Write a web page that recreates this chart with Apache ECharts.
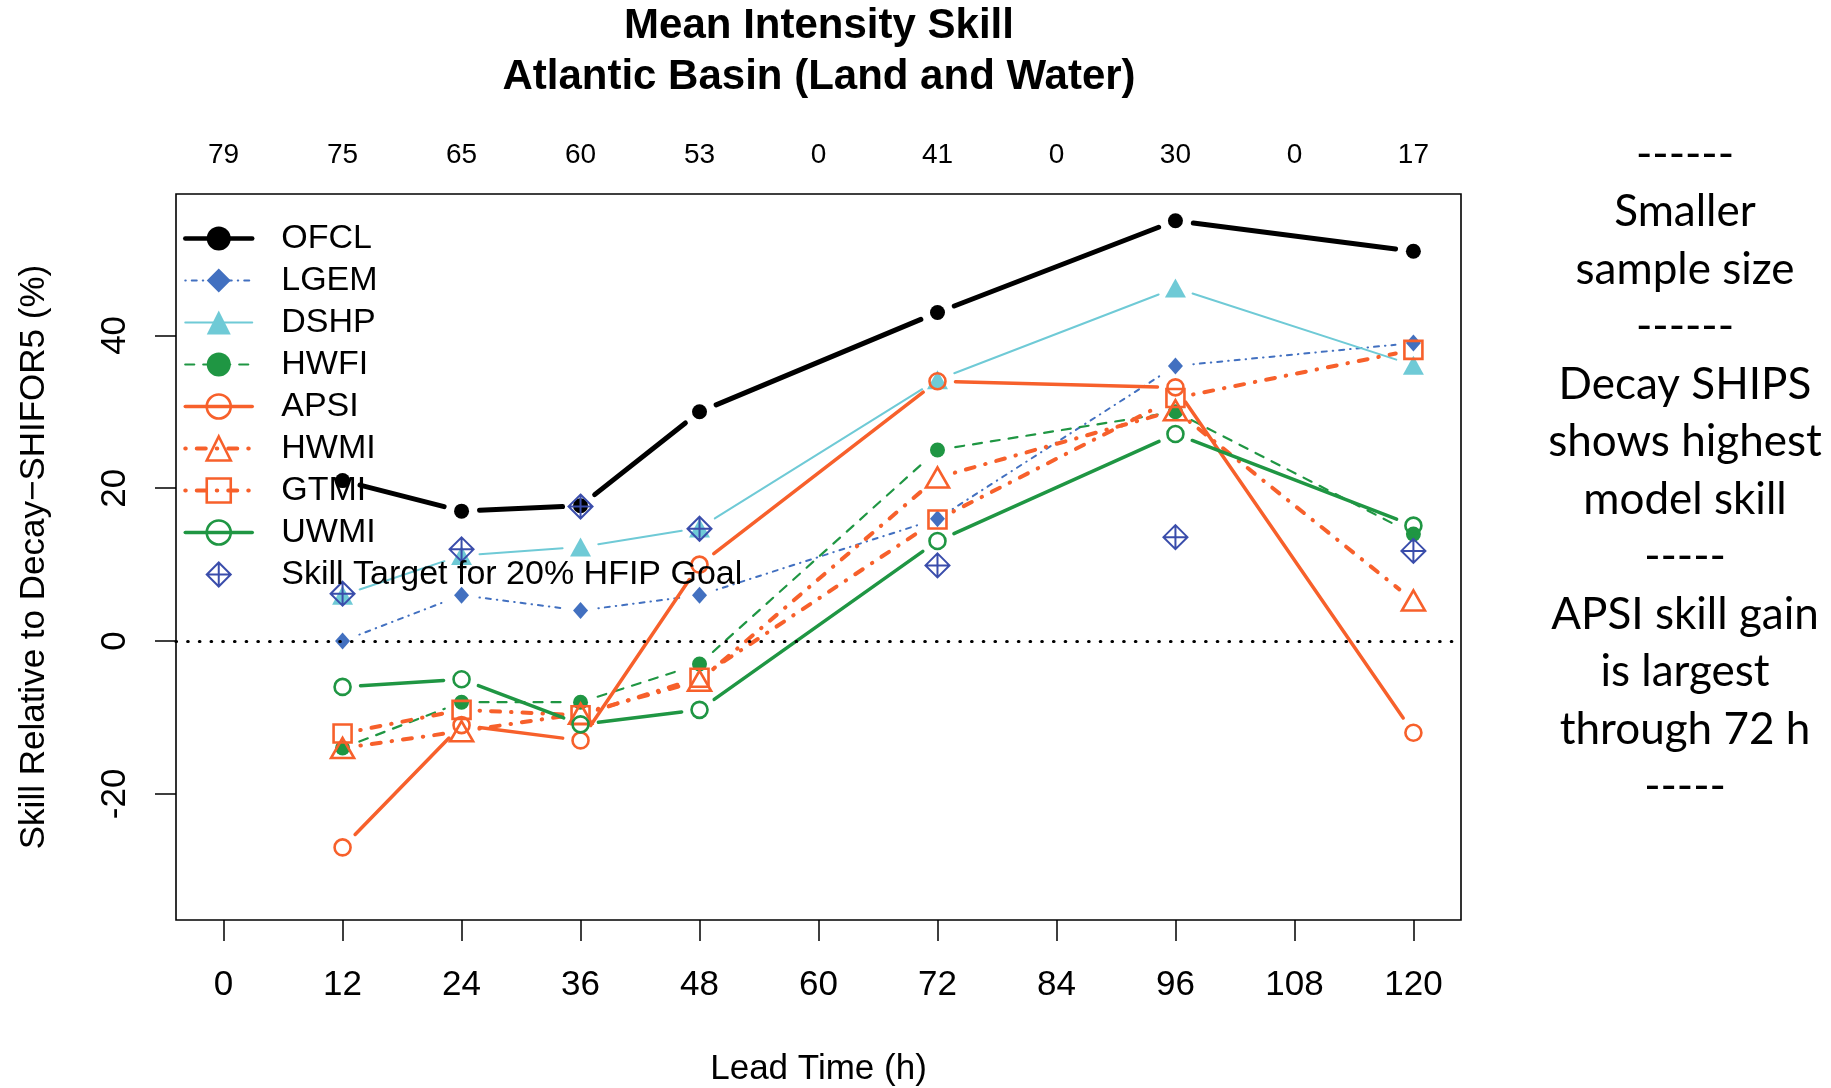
<!DOCTYPE html>
<html>
<head>
<meta charset="utf-8">
<title>Mean Intensity Skill</title>
<script src="https://cdn.jsdelivr.net/npm/echarts@6/dist/echarts.min.js"></script>
<style>
  html, body { margin: 0; padding: 0; background: #ffffff; }
  #chart { width: 1831px; height: 1088px; }
</style>
</head>
<body>
<div id="chart"></div>
<script>
// Lead times (h) at which the models were verified
const leadTimes = [12, 24, 36, 48, 72, 96, 120];

// Intensity skill (%) relative to Decay-SHIFOR5
const ofcl = [21, 17, 17.7, 30, 43, 55, 51];
const lgem = [0, 6, 4, 6, 16, 36, 39];
const dshp = [6, 11.2, 12.3, 14.8, 34.2, 46.2, 36.1];
const hwfi = [-14, -8, -8, -3, 25, 30, 14];
const apsi = [-27, -11, -13, 10, 34, 33.2, -12];
const hwmi = [-14, -11.8, -9.5, -5.2, 21.4, 30.2, 5.3];
const gtmi = [-12.1, -9, -9.7, -4.8, 15.9, 31.8, 38.1];
const uwmi = [-6, -5, -10.9, -9, 13.1, 27.1, 15.1];
const skillTarget = [6.2, 12, 17.6, 14.7, 9.9, 13.6, 11.8];

// Axis ticks and the number of cases at each tick
const xTicks = [0, 12, 24, 36, 48, 60, 72, 84, 96, 108, 120];
const sampleCounts = [79, 75, 65, 60, 53, 0, 41, 0, 30, 0, 17];
const yTicks = [-20, 0, 20, 40];

const notes = [
  '------', 'Smaller', 'sample size', '------',
  'Decay SHIPS', 'shows highest', 'model skill', '-----',
  'APSI skill gain', 'is largest', 'through 72 h', '-----'
];

const FONT = '"Liberation Sans", Arial, Helvetica, sans-serif';
const C_BLUE = '#4270c0';
const C_CYAN = '#6fcad6';
const C_GREEN = '#1f9643';
const C_ORANGE = '#f7602b';
const C_NAVY = '#3a4dab';
const TARGET_ICON = 'path://M0,-12L12,0L0,12L-12,0Z M0,-12L0,12 M-12,0L12,0';

const models = [
  { name: 'OFCL', values: ofcl, color: '#000000', width: 5, dash: null,
    symbol: 'circle', size: 15, filled: true },
  { name: 'LGEM', values: lgem, color: C_BLUE, width: 2, dash: [0.5, 6, 5, 6],
    symbol: 'diamond', size: [15, 17], filled: true },
  { name: 'DSHP', values: dshp, color: C_CYAN, width: 2, dash: null,
    symbol: 'triangle', size: [21, 19], filled: true },
  { name: 'HWFI', values: hwfi, color: C_GREEN, width: 2.2, dash: [9, 9],
    symbol: 'circle', size: 15, filled: true },
  { name: 'APSI', values: apsi, color: C_ORANGE, width: 3.5, dash: null,
    symbol: 'circle', size: 16, filled: false },
  { name: 'HWMI', values: hwmi, color: C_ORANGE, width: 4, dash: [0.5, 11, 9, 11],
    symbol: 'triangle', size: [23, 20], filled: false },
  { name: 'GTMI', values: gtmi, color: C_ORANGE, width: 4, dash: [0.5, 11, 9, 11],
    symbol: 'rect', size: 18, filled: false },
  { name: 'UWMI', values: uwmi, color: C_GREEN, width: 3.5, dash: null,
    symbol: 'circle', size: 16, filled: false },
  { name: 'Skill Target for 20% HFIP Goal', values: skillTarget, color: C_NAVY, width: 0, dash: null,
    symbol: TARGET_ICON, size: 24, filled: false }
];

// Lines stop short of each point, leaving a gap around the marker
const GAP = 18;
function gappedSegment(color, width, dash) {
  return function (params, api) {
    const a = api.coord([api.value(0), api.value(1)]);
    const b = api.coord([api.value(2), api.value(3)]);
    const dx = b[0] - a[0], dy = b[1] - a[1];
    const len = Math.sqrt(dx * dx + dy * dy);
    if (len <= 2 * GAP) return null;
    const ux = dx / len, uy = dy / len;
    return {
      type: 'line',
      silent: true,
      shape: { x1: a[0] + ux * GAP, y1: a[1] + uy * GAP, x2: b[0] - ux * GAP, y2: b[1] - uy * GAP },
      style: { stroke: color, lineWidth: width, lineDash: dash || null, lineCap: 'round' }
    };
  };
}

function markerStyle(m) {
  return m.filled
    ? { color: m.color, borderWidth: 0 }
    : { color: 'rgba(0,0,0,0)', borderColor: m.color, borderWidth: m.symbol === TARGET_ICON ? 2 : 2.6 };
}

const series = [];
models.forEach(function (m, k) {
  const pts = leadTimes.map(function (t, i) { return [t, m.values[i]]; });
  if (m.width > 0) {
    const segs = [];
    for (let i = 0; i < pts.length - 1; i++) {
      segs.push([pts[i][0], pts[i][1], pts[i + 1][0], pts[i + 1][1]]);
    }
    series.push({
      type: 'custom',
      name: m.name + ' line',
      silent: true,
      renderItem: gappedSegment(m.color, m.width, m.dash),
      data: segs,
      encode: { x: [0, 2], y: [1, 3] },
      z: 2
    });
  }
  const s = {
    type: 'line',
    name: m.name,
    data: pts,
    symbol: m.symbol,
    symbolSize: m.size,
    itemStyle: markerStyle(m),
    lineStyle: { opacity: 0, width: 0 },
    silent: true,
    z: 2
  };
  if (k === 0) {
    s.markLine = {
      silent: true,
      symbol: 'none',
      label: { show: false },
      lineStyle: { color: '#000', type: [0.5, 11.2], width: 3.2, cap: 'round' },
      data: [{ yAxis: 0 }]
    };
  }
  series.push(s);
});

const legendData = models.map(function (m) {
  return {
    name: m.name,
    itemStyle: markerStyle(m),
    lineStyle: {
      color: m.color,
      width: m.width > 0 ? Math.min(m.width, 4.5) : 0,
      type: m.dash || 'solid',
      cap: 'round',
      opacity: m.width > 0 ? 1 : 0
    }
  };
});

const chart = echarts.init(document.getElementById('chart'), null, { renderer: 'canvas' });
chart.setOption({
  animation: false,
  backgroundColor: '#ffffff',
  title: {
    text: 'Mean Intensity Skill\nAtlantic Basin (Land and Water)',
    left: 819,
    top: 1,
    textAlign: 'center',
    padding: 0,
    textStyle: { fontFamily: FONT, fontSize: 42, fontWeight: 'bold', color: '#000', lineHeight: 51 }
  },
  legend: {
    orient: 'vertical',
    left: 183,
    top: 221.5,
    padding: 0,
    itemWidth: 67,
    itemHeight: 30,
    itemGap: 8,
    selectedMode: false,
    textStyle: { fontFamily: FONT, fontSize: 34, lineHeight: 34, color: '#000', padding: [0, 0, 0, 24] },
    data: legendData
  },
  grid: {
    left: 176,
    right: 370,
    top: 194,
    bottom: 168,
    outerBoundsMode: 'none',
    containLabel: false,
    show: true,
    borderColor: '#000',
    borderWidth: 1.6,
    backgroundColor: 'rgba(0,0,0,0)'
  },
  xAxis: [
    {
      type: 'value',
      position: 'bottom',
      min: -4.8,
      max: 124.8,
      name: 'Lead Time (h)',
      nameLocation: 'middle',
      nameGap: 131.5,
      nameTextStyle: { fontFamily: FONT, fontSize: 35, color: '#000' },
      axisLine: { show: false, onZero: false },
      splitLine: { show: false },
      axisTick: { show: true, customValues: xTicks, length: 21, lineStyle: { color: '#000', width: 1.5 } },
      axisLabel: { customValues: xTicks, fontFamily: FONT, fontSize: 35, color: '#000', margin: 47.5 }
    },
    {
      type: 'value',
      position: 'top',
      min: -4.8,
      max: 124.8,
      axisLine: { show: false, onZero: false },
      splitLine: { show: false },
      axisTick: { show: false },
      axisLabel: {
        customValues: xTicks,
        fontFamily: FONT,
        fontSize: 28,
        color: '#000',
        margin: 25,
        formatter: function (v) {
          const i = xTicks.indexOf(v);
          return i >= 0 ? String(sampleCounts[i]) : '';
        }
      }
    }
  ],
  yAxis: {
    type: 'value',
    min: -36.5,
    max: 58.5,
    name: 'Skill Relative to Decay\u2212SHIFOR5 (%)',
    nameLocation: 'middle',
    nameGap: 124,
    nameTextStyle: { fontFamily: FONT, fontSize: 35, color: '#000' },
    axisLine: { show: false, onZero: false },
    splitLine: { show: false },
    axisTick: { show: true, customValues: yTicks, length: 21, lineStyle: { color: '#000', width: 1.5 } },
    axisLabel: { customValues: yTicks, rotate: 90, fontFamily: FONT, fontSize: 35, color: '#000', margin: 43 }
  },
  graphic: [
    {
      type: 'text',
      x: 1685,
      y: 126,
      silent: true,
      style: {
        text: notes.join('\n'),
        fontFamily: 'Lato, "Open Sans", sans-serif',
        fontSize: 44,
        lineHeight: 57.5,
        fill: '#000',
        align: 'center',
        verticalAlign: 'top'
      }
    }
  ],
  series: series
});
</script>
</body>
</html>
